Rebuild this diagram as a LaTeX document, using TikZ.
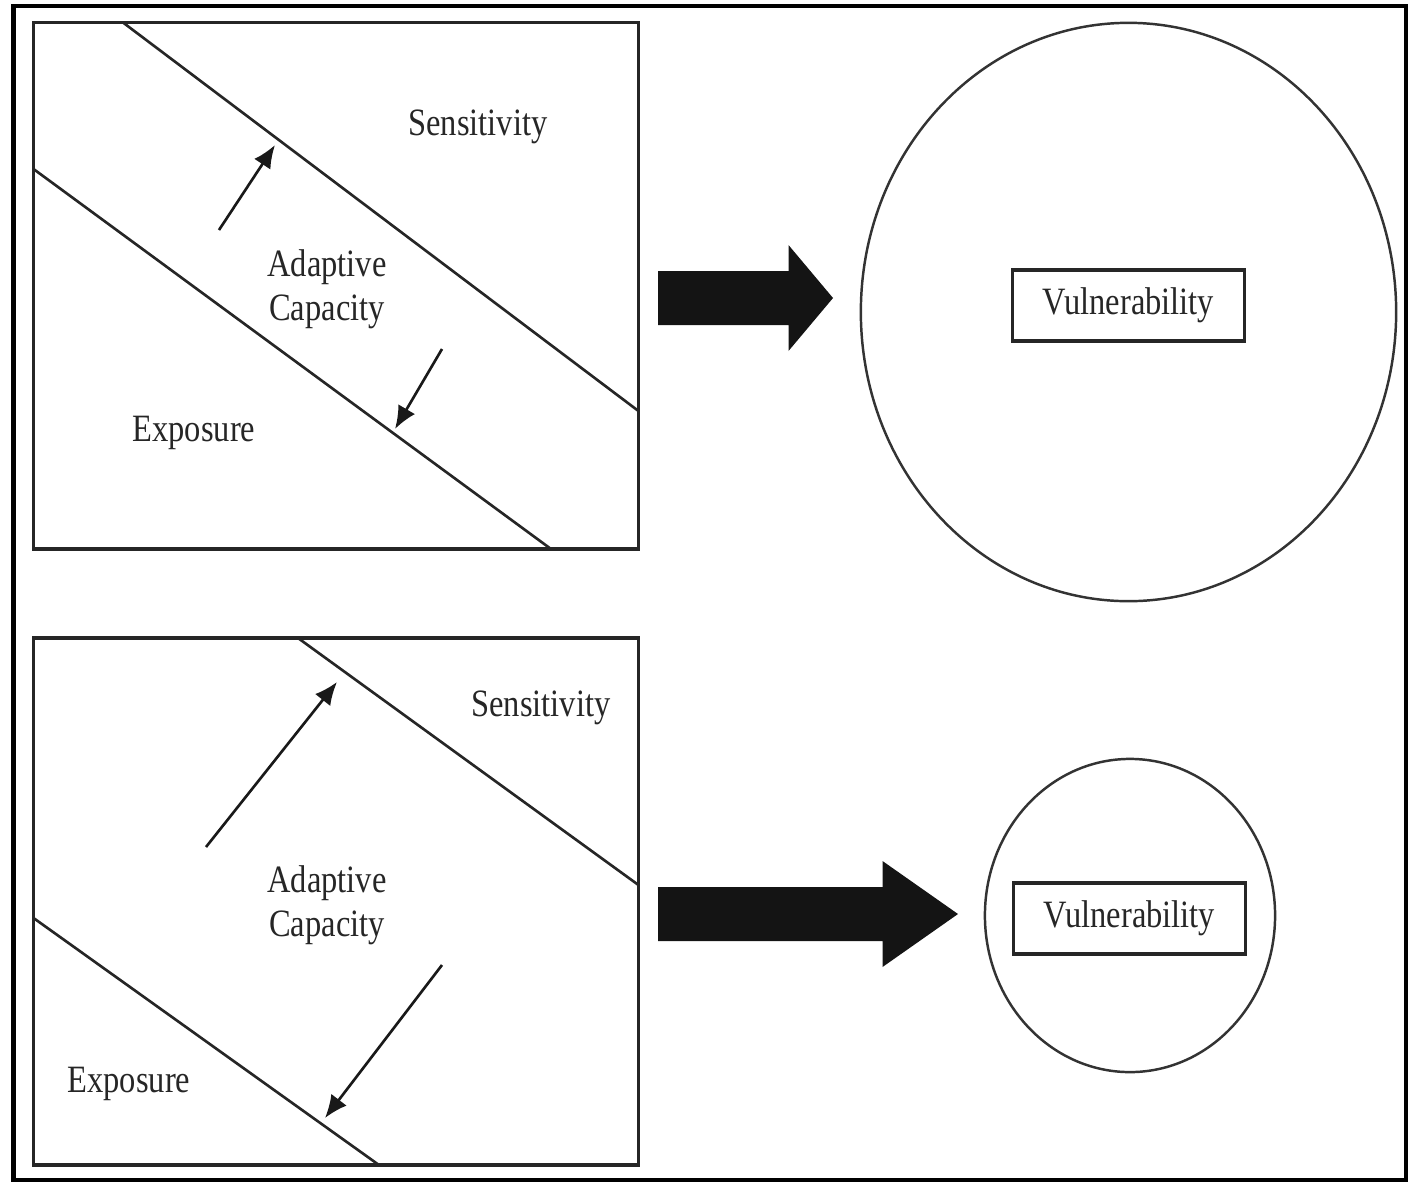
\documentclass[tikz,border=0pt]{standalone}
\usepackage{fontspec}
\setmainfont{Liberation Serif}[FakeStretch=0.84]
\usetikzlibrary{arrows.meta,shapes.geometric}
\tikzset{
  panel/.style={draw=black!85, line width=0.9pt},
  band/.style={draw=black!85, line width=0.75pt},
  shiftarrow/.style={draw=black!90, line width=0.75pt, -{Latex[length=6.5pt,width=5.5pt]}},
  txt/.style={font=\fontsize{11}{12.5}\selectfont, text=black!85, align=center, inner sep=0pt},
  fatarrow/.style={fill=black!92},
  vcircle/.style={draw=black!80, line width=0.7pt, ellipse, inner sep=0pt},
  vulnbox/.style={txt, draw=black!85, line width=0.9pt, minimum width=2.32cm, minimum height=0.71cm}
}
\begin{document}
\begin{tikzpicture}[x=0.01cm, y=-0.01cm]
  \useasboundingbox (0,0) rectangle (1415,1181);
  \draw[line width=1.4pt] (13.5,6) rectangle (1406,1180);

  \draw[panel] (33.5,22.5) rectangle (638.5,549);
  \coordinate (t1a) at (123,22.5);
  \coordinate (t1b) at (638.5,411);
  \coordinate (t2a) at (33.5,169);
  \coordinate (t2b) at (551,549);
  \draw[band] (t1a) -- (t1b);
  \draw[band] (t2a) -- (t2b);

  \coordinate (tu0) at (219,230);
  \coordinate (tu1) at (275,145);
  \coordinate (td0) at (442,349);
  \coordinate (td1) at (395,429);
  \draw[shiftarrow] (tu0) -- (tu1);
  \draw[shiftarrow] (td0) -- (td1);

  \node[txt] (sens1) at (478,127) {Sensitivity};
  \node[txt] (adap1) at (327,289) {Adaptive\\Capacity};
  \node[txt] (expo1) at (194,433) {Exposure};

  \fill[fatarrow] (658,271) -- (788.5,271) -- (788.5,245) -- (833,298)
    -- (788.5,351) -- (788.5,325) -- (658,325) -- cycle;

  \node[vcircle, minimum width=5.35cm, minimum height=5.78cm] (circ1) at (1128.5,312) {};
  \node[vulnbox] (vul1) at (1128.5,305.5) {Vulnerability};

  \draw[panel] (33.5,638) rectangle (638.5,1165);
  \coordinate (b1a) at (298,638);
  \coordinate (b1b) at (638.5,885);
  \coordinate (b2a) at (33.5,918);
  \coordinate (b2b) at (379,1165);
  \draw[band] (b1a) -- (b1b);
  \draw[band] (b2a) -- (b2b);

  \coordinate (bu0) at (206,847);
  \coordinate (bu1) at (337,682);
  \coordinate (bd0) at (442,965);
  \coordinate (bd1) at (325,1118);
  \draw[shiftarrow] (bu0) -- (bu1);
  \draw[shiftarrow] (bd0) -- (bd1);

  \node[txt] (sens2) at (541,708) {Sensitivity};
  \node[txt] (adap2) at (327,905) {Adaptive\\Capacity};
  \node[txt] (expo2) at (129,1084) {Exposure};

  \fill[fatarrow] (658,887) -- (882.5,887) -- (882.5,861) -- (958,914)
    -- (882.5,967) -- (882.5,941) -- (658,941) -- cycle;

  \node[vcircle, minimum width=2.9cm, minimum height=3.13cm] (circ2) at (1130,915.5) {};
  \node[vulnbox] (vul2) at (1129.5,918.5) {Vulnerability};
\end{tikzpicture}
\end{document}
